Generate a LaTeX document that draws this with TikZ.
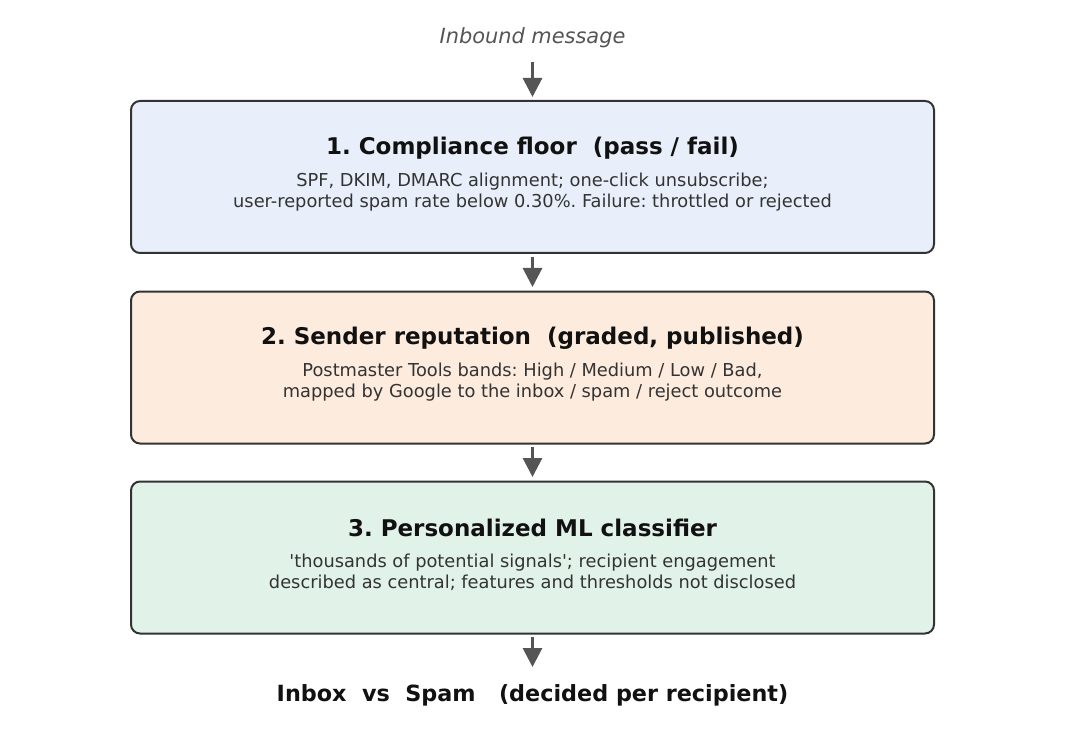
\documentclass[tikz,border=0pt]{standalone}
\usepackage{fontspec}
\setmainfont{DejaVu Sans}[Ligatures=TeXOff]
\usetikzlibrary{arrows.meta}
\definecolor{edge}{HTML}{333333}
\definecolor{arr}{HTML}{555555}
\definecolor{fillA}{HTML}{E8EFFA}
\definecolor{fillB}{HTML}{FDEBDE}
\definecolor{fillC}{HTML}{E1F2E9}
\definecolor{titlec}{HTML}{111111}
\definecolor{bodyc}{HTML}{333333}
\frenchspacing
\begin{document}
\begin{tikzpicture}[x=1pt,y=-1pt,
  stagebox/.style={draw=edge,line width=2pt,rounded corners=9pt,minimum width=803pt,minimum height=152pt,inner sep=0pt},
  ttl/.style={font=\fontsize{23}{27}\selectfont\bfseries,text=titlec,inner sep=0pt},
  bdy/.style={font=\fontsize{17.8}{21.5}\selectfont,text=bodyc,align=center,inner sep=0pt},
  flow/.style={draw=arr,line width=3pt,-{Triangle[length=19pt,width=19pt]}}]
\useasboundingbox (0,0) rectangle (1065,735);
\node[font=\fontsize{20.9}{24}\selectfont\itshape,text=arr] (in) at (532.5,38) {Inbound message};
\node[stagebox,fill=fillA] (b1) at (532.5,177) {};
\node[stagebox,fill=fillB] (b2) at (532.5,367.5) {};
\node[stagebox,fill=fillC] (b3) at (532.5,557.5) {};
\node[ttl] (t1) at (532.5,148) {1. Compliance floor\ \ (pass / fail)};
\node[bdy] (d1) at (532.5,192) {SPF, DKIM, DMARC alignment; one-click unsubscribe;\\user-reported spam rate below 0.30\%. Failure: throttled or rejected};
\node[ttl] (t2) at (532.5,338) {2. Sender reputation\ \ (graded, published)};
\node[bdy] (d2) at (532.5,382) {Postmaster Tools bands: High / Medium / Low / Bad,\\mapped by Google to the inbox / spam / reject outcome};
\node[ttl] (t3) at (532.5,528) {3. Personalized ML classifier};
\node[bdy] (d3) at (532.5,572.5) {'thousands of potential signals'; recipient engagement\\described as central; features and thresholds not disclosed};
\node[font=\fontsize{22.3}{26}\selectfont\bfseries,text=titlec] (out) at (532.5,695) {Inbox\ \ vs\ \ Spam\ \ \ (decided per recipient)};
\coordinate (a0) at (532.5,62);
\coordinate (a1) at (532.5,257);
\coordinate (a2) at (532.5,447);
\coordinate (a3) at (532.5,637);
\coordinate (e0) at (532.5,97);
\coordinate (e1) at (532.5,287);
\coordinate (e2) at (532.5,477);
\coordinate (e3) at (532.5,667);
\draw[flow] (a0) -- (e0);
\draw[flow] (a1) -- (e1);
\draw[flow] (a2) -- (e2);
\draw[flow] (a3) -- (e3);
\end{tikzpicture}
\end{document}
